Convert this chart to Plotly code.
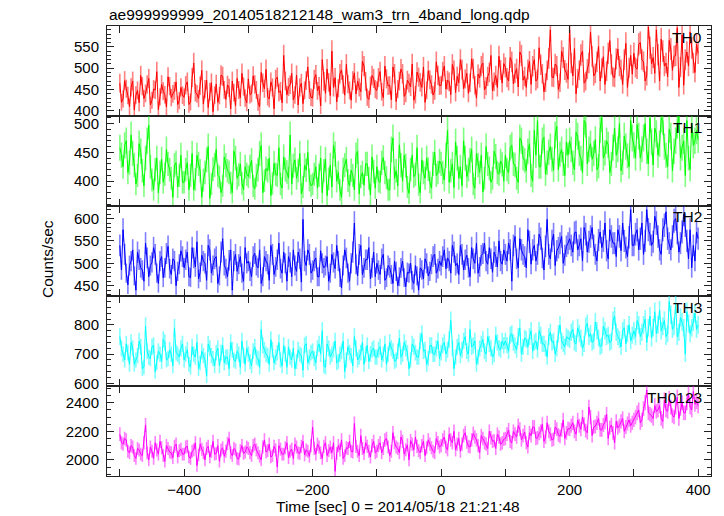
import plotly.graph_objects as go
from plotly.subplots import make_subplots

# ---------------- data ----------------
# samples on the whole 5-s grid (-500 ... 400) and on the half-step grid (-497.5 ... 397.5)
th0_on = [465, 428, 452, 410, 470, 437, 419, 458, 441, 476, 425, 449, 403, 462, 438, 480, 431, 447, 415, 455,
          432, 468, 421, 512, 440, 459, 416, 472, 445, 398, 463, 436, 481, 427, 454, 470, 412, 449, 488, 430,
          475, 441, 462, 420, 490, 452, 433, 468, 405, 479, 447, 530, 438, 461, 426, 484, 455, 417, 471, 449,
          430, 485, 458, 520, 441, 467, 540, 478, 453, 496, 437, 463, 425, 489, 470, 445, 505, 432, 459, 476,
          448, 492, 431, 475, 460, 503, 422, 470, 487, 441, 465, 510, 438, 479, 455, 420, 494, 462, 447, 483,
          460, 505, 472, 438, 495, 481, 520, 452, 488, 466, 499, 430, 477, 512, 458, 490, 447, 483, 528, 465,
          502, 470, 515, 488, 456, 530, 481, 497, 462, 520, 475, 508, 445, 495, 590, 478, 505, 466, 525, 489,
          590, 482, 440, 495, 540, 470, 512, 528, 488, 551, 500, 462, 535, 509, 478, 545, 497, 520, 455, 530,
          535, 498, 560, 515, 482, 548, 525, 590, 470, 540, 512, 565, 495, 530, 455, 578, 520, 505, 548, 490,
          535]
th0_half = [420, 471, 436, 455, 402, 448, 483, 429, 462, 414, 451, 492, 433, 446, 409, 458, 440, 468, 424, 437,
            460, 415, 478, 443, 429, 495, 451, 408, 466, 437, 420, 484, 449, 461, 405, 443, 476, 431, 457, 419,
            438, 482, 449, 410, 466, 497, 428, 455, 474, 443, 419, 470, 456, 488, 437, 414, 465, 448, 503, 432,
            474, 447, 412, 469, 498, 436, 455, 421, 487, 462, 509, 448, 471, 440, 455, 516, 469, 427, 483, 451,
            478, 445, 505, 459, 426, 487, 451, 498, 434, 472, 456, 425, 491, 467, 503, 448, 473, 437, 515, 459,
            492, 451, 468, 509, 443, 466, 497, 475, 441, 522, 460, 486, 505, 449, 481, 530, 468, 455, 496, 511,
            478, 525, 463, 499, 538, 472, 455, 516, 505, 470, 548, 487, 466, 523, 479, 510, 450, 540, 496, 474,
            512, 546, 476, 531, 465, 498, 585, 482, 515, 470, 527, 493, 565, 480, 522, 505, 462, 558, 501, 486,
            502, 556, 520, 470, 597, 510, 488, 532, 568, 505, 480, 545, 528, 595, 503, 460, 538, 585, 512, 556]

th1_on = [458, 425, 470, 432, 448, 395, 465, 418, 440, 497, 402, 420, 380, 438, 412, 430, 405, 428, 390, 445,
          398, 432, 410, 385, 445, 418, 402, 437, 370, 421, 455, 407, 392, 428, 415, 380, 440, 411, 396, 425,
          408, 436, 387, 420, 462, 401, 418, 375, 431, 410, 395, 442, 416, 480, 427, 405, 448, 390, 419, 402,
          395, 425, 410, 380, 438, 404, 390, 447, 415, 372, 428, 401, 419, 385, 452, 408, 393, 430, 376, 417,
          425, 398, 441, 406, 385, 475, 418, 463, 400, 427, 379, 445, 412, 394, 437, 405, 421, 388, 450, 415,
          430, 402, 488, 418, 389, 440, 425, 470, 408, 436, 395, 448, 415, 381, 460, 422, 405, 443, 412, 429,
          445, 415, 462, 428, 398, 470, 436, 452, 410, 488, 505, 425, 476, 432, 460, 419, 495, 447, 430, 468,
          470, 432, 485, 448, 415, 500, 455, 438, 472, 426, 510, 449, 463, 430, 492, 455, 418, 478, 444, 505,
          462, 498, 440, 475, 452, 510, 428, 482, 465, 505, 445, 490, 418, 470, 512, 458, 410, 440, 500, 470,
          472]
th1_half = [445, 462, 415, 480, 428, 410, 452, 392, 470, 425, 385, 440, 415, 398, 455, 420, 372, 432, 410, 398,
            420, 385, 448, 403, 430, 372, 415, 460, 395, 428, 410, 380, 442, 418, 397, 452, 405, 430, 385, 412,
            425, 392, 410, 448, 380, 422, 440, 396, 412, 458, 388, 420, 405, 395, 437, 418, 378, 428, 450, 392,
            412, 388, 440, 418, 375, 428, 462, 400, 385, 420, 438, 392, 410, 445, 378, 415, 430, 405, 442, 388,
            400, 432, 415, 385, 455, 405, 392, 428, 445, 390, 420, 408, 458, 380, 415, 440, 398, 430, 410, 435,
            415, 445, 398, 430, 468, 405, 392, 440, 420, 455, 388, 428, 445, 405, 430, 398, 452, 415, 435, 400,
            420, 458, 430, 405, 475, 440, 418, 465, 400, 445, 425, 470, 412, 450, 438, 480, 420, 455, 410, 445,
            455, 420, 478, 440, 505, 430, 465, 448, 420, 490, 440, 470, 415, 458, 445, 500, 432, 460, 425, 475,
            440, 478, 455, 500, 430, 468, 492, 445, 510, 460, 425, 478, 452, 498, 440, 470, 505, 420, 462, 488]

th2_on = [540, 575, 478, 495, 530, 440, 508, 485, 545, 470, 502, 520, 455, 515, 490, 538, 475, 505, 482, 528,
          490, 525, 468, 512, 548, 480, 505, 462, 530, 495, 515, 472, 555, 488, 507, 440, 520, 498, 478, 535,
          505, 470, 522, 490, 455, 515, 498, 540, 475, 508, 488, 525, 460, 502, 530, 482, 510, 598, 495, 520,
          485, 512, 470, 500, 495, 460, 520, 488, 505, 445, 530, 478, 500, 590, 472, 540, 490, 508, 465, 525,
          500, 475, 520, 468, 490, 455, 482, 470, 505, 448, 478, 462, 495, 440, 485, 510, 472, 498, 520, 488,
          495, 530, 512, 478, 525, 500, 540, 485, 518, 470, 510, 545, 492, 522, 505, 535, 480, 515, 550, 498,
          520, 545, 460, 560, 490, 530, 515, 575, 498, 540, 520, 555, 485, 598, 510, 565, 528, 545, 500, 538,
          555, 525, 570, 540, 505, 565, 548, 580, 520, 552, 535, 590, 510, 560, 545, 575, 528, 550, 515, 620,
          540, 575, 555, 520, 620, 565, 548, 590, 530, 575, 615, 545, 560, 600, 525, 570, 585, 510, 490, 505,
          555]
th2_half = [485, 520, 452, 505, 472, 525, 490, 460, 512, 495, 535, 478, 505, 468, 522, 488, 510, 450, 498, 515,
            508, 470, 535, 492, 465, 518, 500, 540, 478, 510, 455, 525, 495, 470, 530, 505, 482, 515, 460, 500,
            482, 515, 495, 530, 470, 505, 462, 520, 492, 545, 478, 500, 515, 470, 495, 525, 458, 505, 530, 478,
            505, 470, 528, 490, 515, 478, 502, 540, 468, 495, 512, 460, 525, 498, 520, 475, 508, 535, 490, 470,
            485, 510, 462, 495, 475, 505, 450, 490, 468, 480, 500, 455, 472, 490, 465, 500, 482, 515, 478, 505,
            515, 488, 505, 540, 495, 475, 520, 508, 490, 535, 500, 478, 518, 545, 498, 510, 525, 492, 505, 530,
            505, 530, 540, 510, 555, 520, 490, 548, 530, 505, 565, 512, 538, 520, 550, 495, 535, 560, 518, 545,
            540, 568, 530, 555, 580, 525, 560, 540, 505, 570, 550, 528, 575, 545, 515, 560, 590, 535, 558, 540,
            565, 530, 590, 550, 575, 540, 605, 560, 520, 585, 555, 530, 595, 568, 545, 610, 550, 575, 540, 570]

th3_on = [760, 700, 735, 665, 720, 680, 745, 650, 795, 690, 725, 640, 710, 675, 740, 685, 700, 790, 700, 720,
          680, 715, 655, 700, 740, 670, 695, 625, 720, 685, 705, 660, 730, 690, 650, 715, 675, 700, 745, 665,
          700, 660, 725, 685, 785, 715, 695, 750, 670, 705, 680, 730, 655, 690, 720, 675, 700, 645, 735, 690,
          710, 670, 735, 780, 655, 720, 700, 745, 675, 710, 640, 725, 695, 760, 680, 705, 665, 730, 700, 720,
          690, 725, 700, 665, 740, 710, 680, 755, 700, 720, 650, 735, 705, 690, 770, 715, 685, 730, 700, 745,
          705, 740, 715, 815, 650, 725, 695, 745, 710, 785, 730, 665, 720, 750, 700, 735, 690, 765, 720, 745,
          745, 710, 770, 730, 760, 700, 755, 725, 780, 740, 715, 765, 735, 690, 775, 745, 720, 800, 735, 760,
          750, 785, 735, 770, 720, 795, 760, 740, 810, 755, 730, 780, 765, 745, 830, 760, 725, 790, 770, 745,
          780, 815, 760, 800, 740, 830, 790, 770, 850, 795, 760, 880, 785, 870, 775, 810, 700, 805, 790, 840,
          800]
th3_half = [720, 680, 705, 740, 665, 695, 725, 655, 710, 685, 730, 670, 700, 750, 680, 715, 660, 705, 690, 735,
            700, 665, 725, 690, 650, 710, 680, 735, 695, 660, 720, 705, 670, 690, 740, 680, 710, 655, 695, 720,
            675, 710, 690, 655, 730, 700, 665, 715, 690, 740, 660, 700, 725, 680, 650, 715, 695, 730, 670, 705,
            685, 720, 700, 660, 735, 690, 715, 670, 700, 745, 680, 705, 660, 720, 690, 740, 700, 675, 715, 690,
            715, 680, 735, 700, 720, 675, 710, 690, 740, 705, 680, 725, 690, 745, 710, 665, 730, 700, 720, 685,
            730, 700, 750, 720, 690, 740, 715, 760, 700, 725, 745, 690, 735, 710, 760, 720, 700, 740, 715, 730,
            730, 765, 740, 715, 790, 725, 750, 760, 710, 745, 780, 735, 720, 760, 740, 700, 770, 745, 725, 755,
            775, 740, 790, 755, 735, 805, 770, 745, 780, 725, 795, 760, 740, 815, 775, 750, 780, 735, 800, 765,
            760, 800, 775, 820, 790, 755, 845, 800, 780, 815, 770, 835, 795, 760, 825, 790, 845, 770, 810, 785]

th0123_on = [2180, 2110, 2140, 2050, 2090, 2010, 2070, 2030, 2245, 2000, 2060, 2120, 2040, 2085, 1990, 2080, 2050, 2095, 2020, 2075,
             2040, 2095, 2010, 2070, 1960, 2110, 2050, 2080, 2020, 2130, 2045, 1990, 2085, 2060, 2150, 2030, 2070, 2005, 2100, 2055,
             2080, 2030, 2110, 2050, 2000, 2140, 2065, 2020, 2095, 1950, 2075, 2040, 2120, 2060, 2010, 2090, 2045, 2130, 2070, 2025,
             2230, 2040, 2090, 2010, 2120, 2065, 2050, 1920, 2100, 2140, 2030, 2080, 2060, 2255, 2060, 2170, 2045, 2095, 2020, 2130,
             2060, 2120, 2080, 2150, 2030, 2190, 2090, 2050, 2130, 2070, 2000, 2110, 2160, 2065, 2100, 2030, 2140, 2085, 2050, 2120,
             2100, 2160, 2070, 2140, 2200, 2110, 2060, 2170, 2125, 2090, 2185, 2140, 2050, 2150, 2110, 2200, 2130, 2080, 2160, 2120,
             2150, 2210, 2120, 2180, 2240, 2140, 2195, 2090, 2170, 2230, 2155, 2200, 2130, 2260, 2180, 2145, 2215, 2165, 2280, 2190,
             2215, 2260, 2180, 2240, 2300, 2205, 2370, 2170, 2235, 2290, 2210, 2265, 2150, 2245, 2120, 2225, 2270, 2200, 2255, 2240,
             2280, 2330, 2260, 2360, 2490, 2320, 2290, 2340, 2380, 2270, 2350, 2430, 2310, 2370, 2290, 2400, 2330, 2460, 2350, 2390,
             2380]
th0123_half = [2120, 2150, 2060, 2100, 2030, 2080, 2040, 2120, 2050, 2090, 2010, 2070, 2130, 2030, 2100, 2055, 2015, 2110, 2065, 2040,
               2090, 2020, 2060, 2120, 2035, 2075, 2000, 2095, 2060, 2040, 2100, 2070, 2025, 2115, 2050, 2080, 2010, 2065, 2045, 2090,
               2050, 2100, 2070, 2025, 2090, 2055, 2110, 2030, 2070, 2100, 2040, 2085, 2015, 2075, 2110, 2050, 2095, 2035, 2060, 2100,
               2080, 2110, 2050, 2095, 2030, 2090, 2120, 2045, 2070, 2010, 2085, 2130, 2055, 2095, 2030, 2080, 2120, 2060, 2100, 2050,
               2100, 2050, 2140, 2090, 2060, 2120, 2080, 2160, 2040, 2105, 2135, 2070, 2095, 2050, 2130, 2085, 2110, 2060, 2150, 2090,
               2140, 2090, 2180, 2120, 2070, 2150, 2110, 2190, 2095, 2140, 2160, 2100, 2170, 2120, 2080, 2155, 2135, 2180, 2110, 2145,
               2180, 2130, 2200, 2160, 2215, 2170, 2120, 2190, 2230, 2150, 2185, 2250, 2160, 2200, 2140, 2230, 2175, 2210, 2150, 2220,
               2240, 2200, 2280, 2215, 2250, 2190, 2300, 2230, 2260, 2210, 2245, 2320, 2225, 2190, 2270, 2240, 2290, 2230, 2280, 2260,
               2300, 2350, 2280, 2400, 2330, 2310, 2380, 2350, 2290, 2420, 2340, 2370, 2300, 2440, 2360, 2330, 2400, 2370, 2480, 2410]

band_names = ["TH0", "TH1", "TH2", "TH3", "TH0123"]

x_tick_vals = [-500, -400, -300, -200, -100, 0, 100, 200, 300, 400]
x_tick_text = ["", "\u2212400", "", "\u2212200", "", "0", "", "200", "", "400"]


def merge(on_grid, half_grid):
    assert len(on_grid) == len(half_grid) + 1
    out = []
    for a, b in zip(on_grid, half_grid):
        out += [a, b]
    out.append(on_grid[-1])
    return out


band_values = [merge(th0_on, th0_half), merge(th1_on, th1_half), merge(th2_on, th2_half),
               merge(th3_on, th3_half), merge(th0123_on, th0123_half)]
time_sec = [-500 + 2.5 * k for k in range(len(band_values[0]))]

# ---------------- styling ----------------
colors = ["#ff0000", "#00ff00", "#0000ff", "#00ffff", "#ff00ff"]
err_colors = ["rgba(255,0,0,0.5)", "rgba(0,255,0,0.5)", "rgba(0,0,255,0.5)",
              "rgba(0,255,255,0.5)", "rgba(255,0,255,0.5)"]
err_pct = [4.7, 4.9, 4.5, 3.8, 2.2]
y_ranges = [[388, 599], [357, 513], [427, 628], [591, 899], [1887, 2518]]
y_dtick = [50, 50, 50, 100, 200]
y_minor = [10, 10, 10, 20, 50]
y_tick0 = [400, 400, 450, 600, 2000]

FONT = "Liberation Sans, Arial, sans-serif"
AX = "#222222"

W, H = 724, 516
ML, MR, MT, MB = 107, 13, 26, 40
PW, PH = W - ML - MR, H - MT - MB

fig = make_subplots(rows=5, cols=1, shared_xaxes=True, vertical_spacing=0)

for i, (name, vals) in enumerate(zip(band_names, band_values)):
    fig.add_trace(go.Scatter(
        x=time_sec, y=vals, mode="lines", name=name,
        line=dict(color=colors[i], width=1),
        error_y=dict(type="percent", value=err_pct[i], color=err_colors[i],
                     thickness=1.6, width=0),
        showlegend=False, hoverinfo="skip"), row=i + 1, col=1)

for i in range(5):
    r = i + 1
    fig.update_yaxes(row=r, col=1, range=y_ranges[i], tick0=y_tick0[i], dtick=y_dtick[i],
                     ticks="inside", ticklen=7, tickwidth=1, tickcolor=AX,
                     minor=dict(dtick=y_minor[i], ticks="inside", ticklen=4, tickcolor=AX, tickwidth=1),
                     showline=True, linecolor=AX, linewidth=1, mirror="ticks",
                     showgrid=False, zeroline=False,
                     tickfont=dict(family=FONT, size=15, color="#000"), ticklabelstandoff=4)
    fig.update_xaxes(row=r, col=1, range=[-520, 420], tickmode="array",
                     tickvals=x_tick_vals, ticktext=x_tick_text,
                     ticks="inside", ticklen=7, tickwidth=1, tickcolor=AX,
                     showline=True, linecolor=AX, linewidth=1, mirror="ticks",
                     showgrid=False, zeroline=False,
                     showticklabels=(r == 5),
                     tickfont=dict(family=FONT, size=15, color="#000"))


def px_x(p):
    return (p - ML) / PW


def px_y(p):
    return (H - MB - p) / PH


annotations = [
    dict(text="ae999999999_20140518212148_wam3_trn_4band_long.qdp", x=px_x(107), y=px_y(15),
         xanchor="left", yanchor="middle", font=dict(size=15.5)),
    dict(text="Counts/sec", x=px_x(47), y=px_y(259), textangle=-90,
         xanchor="center", yanchor="middle", font=dict(size=15.5)),
    dict(text="Time [sec] 0 = 2014/05/18 21:21:48", x=px_x(398), y=px_y(506),
         xanchor="center", yanchor="middle", font=dict(size=15.5)),
]
for i, name in enumerate(band_names):
    top = MT + i * PH / 5
    annotations.append(dict(text=name, x=px_x(704), y=px_y(top + 11),
                            xanchor="right", yanchor="middle", font=dict(size=15.5)))
for a in annotations:
    a.update(xref="paper", yref="paper", showarrow=False)
    a["font"].update(family=FONT, color="#000")

fig.update_layout(width=W, height=H, margin=dict(l=ML, r=MR, t=MT, b=MB),
                  paper_bgcolor="white", plot_bgcolor="white",
                  annotations=annotations, font=dict(family=FONT, color="#000"))

fig.write_html("out.html", config={"displayModeBar": False},
               post_script="document.body.style.margin='0';")
